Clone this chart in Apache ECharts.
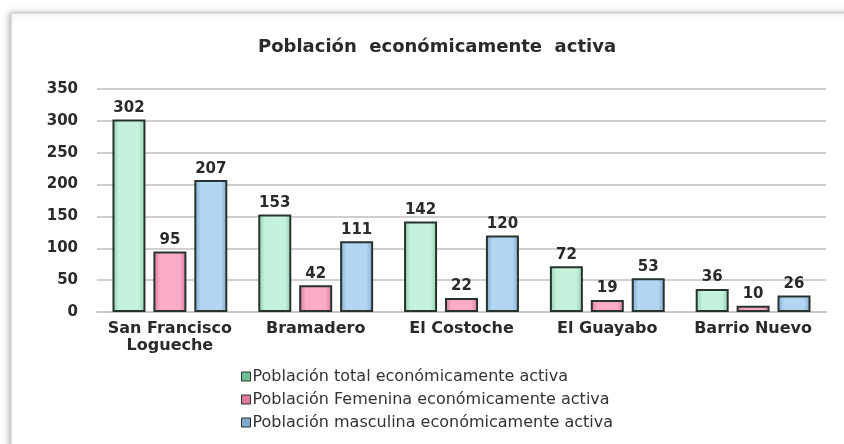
<!DOCTYPE html>
<html>
<head>
<meta charset="utf-8">
<script src="https://cdn.jsdelivr.net/npm/echarts@6/dist/echarts.min.js"></script>
<style>
  html, body { margin: 0; padding: 0; background: #fff; }
  #chart { width: 844px; height: 444px; }
</style>
</head>
<body>
<div id="chart"></div>
<script>
// data
const categories = ["San Francisco\nLogueche", "Bramadero", "El Costoche", "El Guayabo", "Barrio Nuevo"];
const totalActiva = [302, 153, 142, 72, 36];
const femeninaActiva = [95, 42, 22, 19, 10];
const masculinaActiva = [207, 111, 120, 53, 26];
const seriesNames = [
  "Población total económicamente activa",
  "Población Femenina económicamente activa",
  "Población masculina económicamente activa"
];
const yTicks = { min: 0, max: 350, interval: 50 };

// beveled look: darker edges, light middle
const bevel = (edge, mid) => new echarts.graphic.LinearGradient(0, 0, 1, 0, [
  { offset: 0, color: edge },
  { offset: 0.2, color: mid },
  { offset: 0.8, color: mid },
  { offset: 1, color: edge }
]);

const palette = [
  { edge: "#8fcfae", mid: "#c4f2dc", legend: "#6fbf93" },
  { edge: "#d9789c", mid: "#f9abc8", legend: "#e07aa0" },
  { edge: "#7fa9cf", mid: "#b4d6f3", legend: "#7fa9cf" }
];

const chart = echarts.init(document.getElementById("chart"));

const makeSeries = (name, data, i) => ({
  name: name,
  type: "bar",
  data: data,
  barWidth: 33,
  barGap: "24%",
  itemStyle: {
    color: bevel(palette[i].edge, palette[i].mid),
    borderColor: "#27332c",
    borderWidth: 2
  },
  label: {
    show: true,
    position: "top",
    distance: 4,
    color: "#2a2a2a",
    fontFamily: "DejaVu Sans",
    fontWeight: "bold",
    fontSize: 15
  }
});

const option = {
  animation: false,
  backgroundColor: "#fff",
  graphic: [
    {
      type: "rect",
      shape: { x: 11, y: 13, width: 860, height: 460 },
      style: {
        fill: "#fff",
        stroke: "#c8c8c8",
        lineWidth: 1,
        shadowBlur: 6,
        shadowColor: "rgba(0,0,0,0.25)",
        shadowOffsetX: -2
      },
      z: -10
    }
  ],
  title: {
    text: "Población  económicamente  activa",
    left: 432,
    textAlign: "center",
    top: 33,
    textStyle: {
      fontFamily: "DejaVu Sans",
      fontWeight: "bold",
      fontSize: 18,
      color: "#2a2a2a"
    }
  },
  legend: {
    orient: "vertical",
    left: 236,
    top: 363,
    itemWidth: 9,
    itemHeight: 9,
    itemGap: 6,
    icon: "rect",
    textStyle: {
      fontFamily: "DejaVu Sans",
      fontSize: 16,
      lineHeight: 17,
      color: "#333",
      padding: [0, 0, 0, -3]
    },
    data: seriesNames.map((n, i) => ({
      name: n,
      itemStyle: { color: palette[i].legend, borderColor: "#27332c", borderWidth: 1 }
    }))
  },
  grid: {
    left: 97,
    right: 18,
    top: 89,
    bottom: 132
  },
  xAxis: {
    type: "category",
    data: categories,
    axisTick: { show: false },
    axisLine: { lineStyle: { color: "#c8c8c8", width: 2 } },
    axisLabel: {
      interval: 0,
      hideOverlap: false,
      color: "#2a2a2a",
      fontFamily: "DejaVu Sans",
      fontWeight: "bold",
      fontSize: 16,
      margin: 8,
      lineHeight: 17
    }
  },
  yAxis: {
    type: "value",
    min: yTicks.min,
    max: yTicks.max,
    interval: yTicks.interval,
    axisLine: { show: false },
    axisTick: { show: false },
    splitLine: { lineStyle: { color: "#cfcfcf", width: 2 } },
    axisLabel: {
      color: "#2a2a2a",
      fontFamily: "DejaVu Sans",
      fontWeight: "bold",
      fontSize: 15,
      margin: 19
    }
  },
  series: [
    makeSeries(seriesNames[0], totalActiva, 0),
    makeSeries(seriesNames[1], femeninaActiva, 1),
    makeSeries(seriesNames[2], masculinaActiva, 2)
  ]
};

chart.setOption(option);
</script>
</body>
</html>
